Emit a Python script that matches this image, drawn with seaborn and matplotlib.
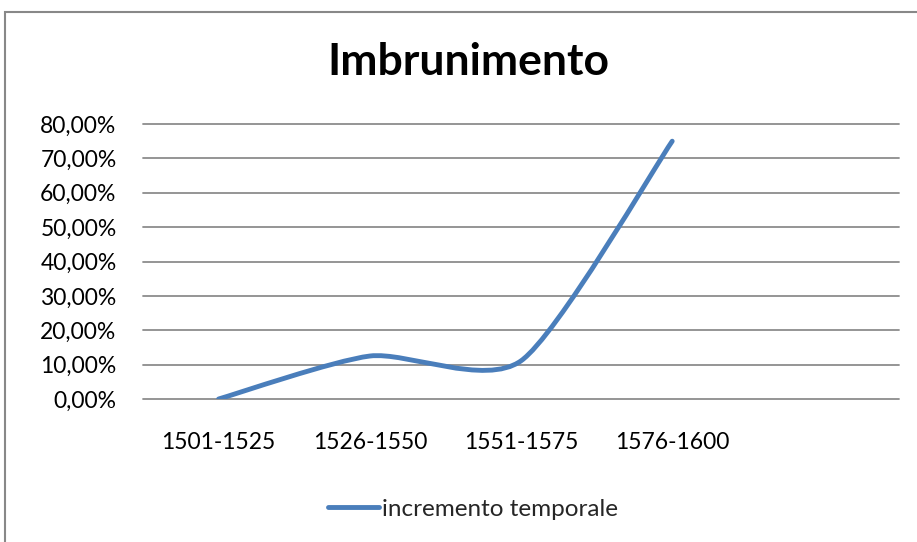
import numpy as np
import pandas as pd
import matplotlib
matplotlib.use("Agg")
import matplotlib.pyplot as plt
import seaborn as sns
from matplotlib.path import Path
from matplotlib.patches import PathPatch, Rectangle
from matplotlib.lines import Line2D
from matplotlib.ticker import FuncFormatter

# Data
periods = ["1501-1525", "1526-1550", "1551-1575", "1576-1600", ""]
values = [0.0, 0.125, 0.111, 0.75]
series_name = "incremento temporale"
title = "Imbrunimento"
y_ticks = [0.0, 0.1, 0.2, 0.3, 0.4, 0.5, 0.6, 0.7, 0.8]

LINE_COLOR = "#4A7EBB"
GRID_COLOR = "#8C8C8C"
FONT = ["Lato", "DejaVu Sans"]
LABEL_SIZE = 16

sns.set_theme(style="white")
plt.rcParams["font.family"] = FONT

W, H = 917, 542
fig = plt.figure(figsize=(W / 100, H / 100), dpi=100)
ax = fig.add_axes([143 / W, 1 - 399 / H, (899 - 143) / W, (399 - 124) / H])

df = pd.DataFrame({"pos": np.arange(len(values)), "valore": values})
sns.lineplot(data=df, x="pos", y="valore", ax=ax, color=LINE_COLOR, lw=3.5)

# Replace the straight polyline with a smoothed Bezier path through the same points
line = ax.lines[0]
pts = np.column_stack(line.get_data()).astype(float)
line.set_visible(False)
k = 0.12
n = len(pts)
verts = [pts[0]]
codes = [Path.MOVETO]
for i in range(n - 1):
    p_prev = pts[i - 1] if i > 0 else pts[i]
    p_next2 = pts[i + 2] if i + 2 < n else pts[i + 1]
    c1 = pts[i] + k * (pts[i + 1] - p_prev)
    c2 = pts[i + 1] - k * (p_next2 - pts[i])
    verts += [c1, c2, pts[i + 1]]
    codes += [Path.CURVE4] * 3
ax.add_patch(PathPatch(Path(verts, codes), fill=False, edgecolor=LINE_COLOR,
                       lw=3.5, capstyle="round", joinstyle="round", zorder=3))

ax.set_xlim(-0.5, len(periods) - 0.5)
ax.set_ylim(0, 0.8)
ax.set_xticks(range(len(periods)))
ax.set_xticklabels(periods)
ax.set_yticks(y_ticks)
ax.yaxis.set_major_formatter(FuncFormatter(lambda v, _: f"{v * 100:.2f}%".replace(".", ",")))
ax.tick_params(axis="both", length=0, labelsize=LABEL_SIZE, colors="black")
ax.tick_params(axis="x", labelsize=16.5)
ax.tick_params(axis="y", labelsize=16.5, pad=19)
ax.tick_params(axis="x", pad=24)
ax.set_xlabel("")
ax.set_ylabel("")
for s in ax.spines.values():
    s.set_visible(False)
ax.grid(axis="y", color=GRID_COLOR, lw=1.3)
ax.grid(axis="x", visible=False)
ax.set_axisbelow(True)
for gl in ax.get_ygridlines():
    gl.set_clip_on(False)

fig.text(468 / W, 1 - 62 / H, title, ha="center", va="center",
         fontsize=32, fontweight="bold", family=FONT, color="black")

handle = Line2D([], [], color=LINE_COLOR, lw=3.5, solid_capstyle="round")
fig.legend([handle], [series_name], loc="center", bbox_to_anchor=(473 / W, 1 - 509 / H),
           frameon=False, fontsize=17.5, handlelength=2.1, handletextpad=0.16)

# Chart area border
fig.patches.append(Rectangle((4.5 / W, -0.1), 2, 1 - 12 / H + 0.1, transform=fig.transFigure,
                             fill=False, edgecolor="#888888", lw=1.5))

fig.savefig("out.png", dpi=100, facecolor="white")
